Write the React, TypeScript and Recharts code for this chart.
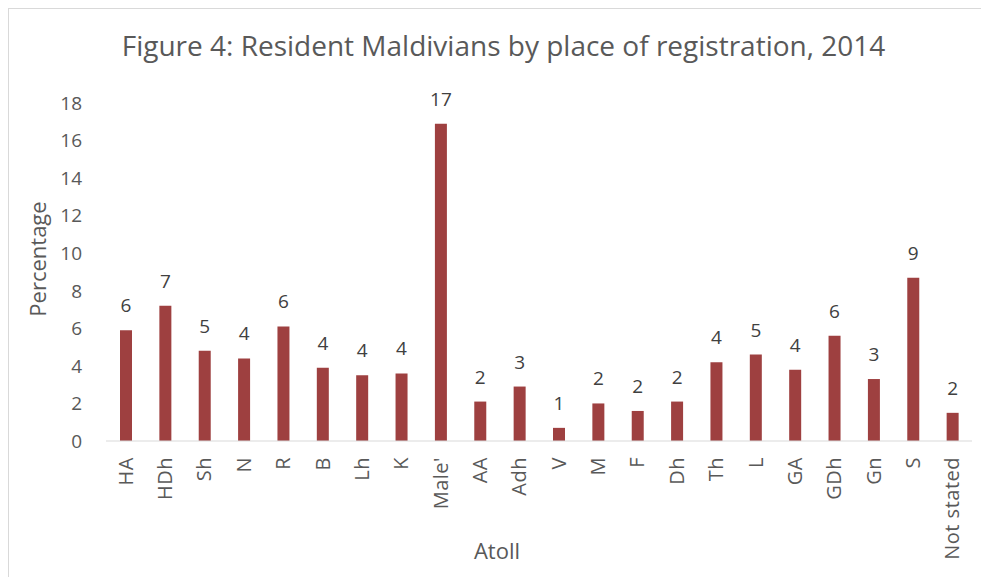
import { Bar, BarChart, XAxis, YAxis, LabelList, Label } from "recharts"

const atolls = [
  "HA", "HDh", "Sh", "N", "R", "B", "Lh", "K", "Male'", "AA", "Adh",
  "V", "M", "F", "Dh", "Th", "L", "GA", "GDh", "Gn", "S", "Not stated",
]

const percentages = [
  5.9, 7.2, 4.8, 4.4, 6.1, 3.9, 3.5, 3.6, 16.9, 2.1, 2.9,
  0.7, 2.0, 1.6, 2.1, 4.2, 4.6, 3.8, 5.6, 3.3, 8.7, 1.5,
]

const yTicks = [0, 2, 4, 6, 8, 10, 12, 14, 16, 18]

const data = atolls.map((name, i) => ({ name, value: percentages[i] }))

const FONT = "'Open Sans', 'Noto Sans', sans-serif"
const GREY = "#595959"

function AtollTick(props: any) {
  const { x, y, payload } = props
  return (
    <text
      x={x}
      y={y + 8}
      dy="0.35em"
      transform={`rotate(-90, ${x}, ${y + 8})`}
      textAnchor="end"
      fill={GREY}
      fontSize={20}
      letterSpacing={0.5}
      fontFamily={FONT}
    >
      {payload.value}
    </text>
  )
}

function PercentageTitle(props: any) {
  const { x, y, height } = props.viewBox
  const cx = x - 9
  const cy = y + height / 2 - 13
  return (
    <text
      x={cx}
      y={cy}
      transform={`rotate(-90, ${cx}, ${cy})`}
      textAnchor="middle"
      dominantBaseline="central"
      fill={GREY}
      fontSize={22}
      fontFamily={FONT}
    >
      Percentage
    </text>
  )
}

function AtollTitle(props: any) {
  const { x, y, width } = props.viewBox
  return (
    <text
      x={x + width / 2 - 42}
      y={y + 109}
      textAnchor="middle"
      dominantBaseline="central"
      fill={GREY}
      fontSize={22}
      fontFamily={FONT}
    >
      Atoll
    </text>
  )
}

export default function App() {
  return (
    <div
      style={{
        position: "relative",
        width: 979,
        height: 569,
        borderTop: "1px solid #d9d9d9",
        borderLeft: "1px solid #d9d9d9",
        borderRight: "1px solid #d9d9d9",
        boxSizing: "border-box",
        fontFamily: FONT,
      }}
    >
      <div
        style={{
          position: "absolute",
          left: 0,
          width: 989,
          top: 17,
          textAlign: "center",
          fontSize: 28,
          lineHeight: "38px",
          color: GREY,
        }}
      >
        Figure 4: Resident Maldivians by place of registration, 2014
      </div>
      <div style={{ position: "absolute", left: -1, top: -1 }}>
        <BarChart
          width={981}
          height={569}
          data={data}
          margin={{ top: 95, right: 17, bottom: 16, left: 38 }}
          barSize={12}
        >
          <XAxis
            dataKey="name"
            interval={0}
            tickLine={false}
            axisLine={{ stroke: "#d9d9d9" }}
            height={120}
            tick={<AtollTick />}
          >
            <Label content={AtollTitle} />
          </XAxis>
          <YAxis
            domain={[0, 18]}
            ticks={yTicks}
            interval={0}
            width={60}
            tickLine={false}
            axisLine={false}
            tick={{ fill: GREY, fontSize: 19, fontFamily: FONT }}
            tickMargin={18}
          >
            <Label content={PercentageTitle} />
          </YAxis>
          <Bar dataKey="value" fill="#9E4040" isAnimationActive={false}>
            <LabelList
              dataKey="value"
              position="top"
              offset={18}
              formatter={(v: any) => Math.round(Number(v))}
              fill="#404040"
              fontSize={19}
              fontFamily={FONT}
            />
          </Bar>
        </BarChart>
      </div>
    </div>
  )
}
